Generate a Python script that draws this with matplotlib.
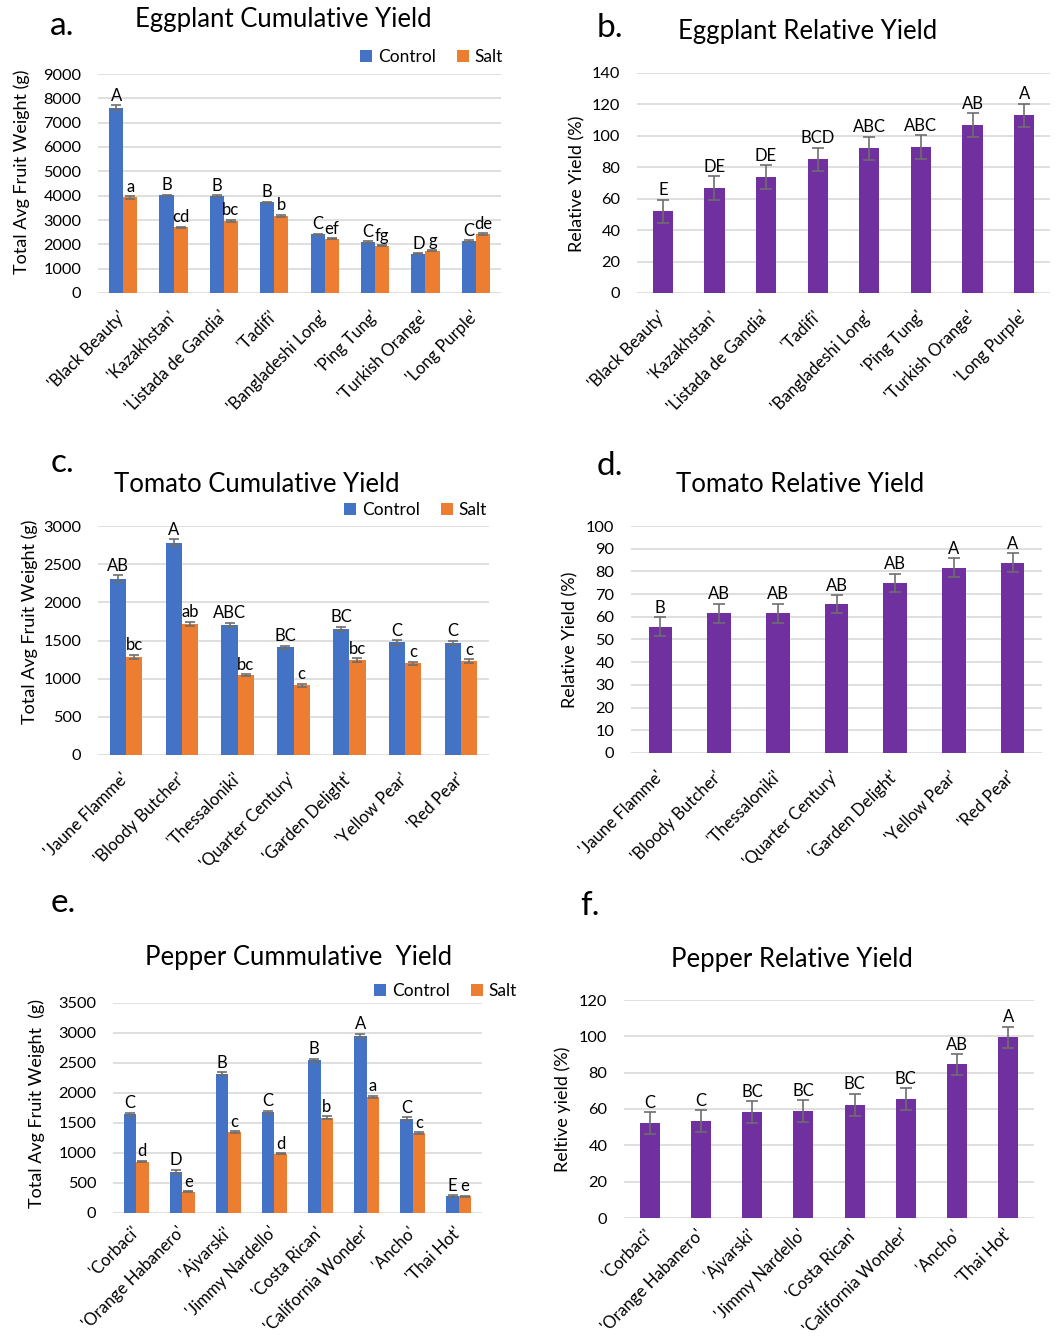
import matplotlib
matplotlib.use('Agg')
import matplotlib.pyplot as plt
import matplotlib.transforms as mtrans
import numpy as np

plt.rcParams['font.family'] = ['Lato', 'DejaVu Sans']

W, H = 1061, 1340

BLUE = '#4472C4'
ORANGE = '#ED7D31'
PURPLE = '#7030A0'
GRID = '#D9D9D9'
ERR = '#6E6E6E'

# Eggplant
egg_names = ["'Black Beauty'", "'Kazakhstan'", "'Listada de Gandia'", "'Tadifi'",
             "'Bangladeshi Long'", "'Ping Tung'", "'Turkish Orange'", "'Long Purple'"]
egg_ctrl = [7620, 4010, 3990, 3720, 2410, 2090, 1620, 2140]
egg_ctrl_err = [90, 30, 40, 40, 35, 30, 25, 30]
egg_salt = [3930, 2700, 2960, 3180, 2230, 1950, 1740, 2430]
egg_salt_err = [60, 30, 50, 40, 25, 25, 30, 35]
egg_ctrl_lett = ['A', 'B', 'B', 'B', 'C', 'C', 'D', 'C']
egg_salt_lett = ['a', 'cd', 'bc', 'b', 'ef', 'fg', 'g', 'de']
egg_rel = [52, 67, 74, 85, 92, 93, 107, 113]
egg_rel_err = [7.5, 7.5, 7.5, 7.5, 7.5, 7.5, 7.5, 7.5]
egg_rel_lett = ['E', 'DE', 'DE', 'BCD', 'ABC', 'ABC', 'AB', 'A']

# Tomato
tom_names = ["'Jaune Flamme'", "'Bloody Butcher'", "'Thessaloniki'", "'Quarter Century'",
             "'Garden Delight'", "'Yellow Pear'", "'Red Pear'"]
tom_ctrl = [2310, 2780, 1705, 1413, 1653, 1474, 1470]
tom_ctrl_err = [45, 45, 30, 20, 30, 30, 30]
tom_salt = [1287, 1718, 1047, 916, 1243, 1199, 1234]
tom_salt_err = [25, 30, 15, 20, 25, 25, 25]
tom_ctrl_lett = ['AB', 'A', 'ABC', 'BC', 'BC', 'C', 'C']
tom_salt_lett = ['bc', 'ab', 'bc', 'c', 'bc', 'c', 'c']
tom_rel = [55.7, 61.5, 61.5, 65.5, 75.0, 81.6, 83.8]
tom_rel_err = [4, 4.2, 4.2, 4, 4, 4.2, 4.2]
tom_rel_lett = ['B', 'AB', 'AB', 'AB', 'AB', 'A', 'A']

# Pepper
pep_names = ["'Corbaci'", "'Orange Habanero'", "'Ajvarski'", "'Jimmy Nardello'",
             "'Costa Rican'", "'California Wonder'", "'Ancho'", "'Thai Hot'"]
pep_ctrl = [1650, 685, 2320, 1678, 2542, 2952, 1573, 282]
pep_ctrl_err = [25, 35, 25, 25, 30, 35, 20, 10]
pep_salt = [858, 354, 1346, 986, 1589, 1933, 1329, 277]
pep_salt_err = [15, 12, 20, 10, 20, 20, 20, 10]
pep_ctrl_lett = ['C', 'D', 'B', 'C', 'B', 'A', 'C', 'E']
pep_salt_lett = ['d', 'e', 'c', 'd', 'b', 'a', 'c', 'e']
pep_rel = [52.1, 53.4, 58.3, 58.9, 62.4, 65.3, 84.5, 99.4]
pep_rel_err = [6, 6, 6, 6, 6, 6, 5.8, 6]
pep_rel_lett = ['C', 'C', 'BC', 'BC', 'BC', 'BC', 'AB', 'A']

fig = plt.figure(figsize=(W / 100, H / 100), dpi=100)


def px_axes(x0, y0, x1, y1):
    return fig.add_axes([x0 / W, 1 - y1 / H, (x1 - x0) / W, (y1 - y0) / H])


def style(ax, names, ymax, step, xpad):
    n = len(names)
    ax.set_xlim(-0.5, n - 0.5)
    ax.set_ylim(0, ymax)
    ax.set_yticks(np.arange(0, ymax + 1, step))
    ax.yaxis.grid(True, color=GRID, lw=1.2)
    ax.set_axisbelow(True)
    for s in ax.spines.values():
        s.set_visible(False)
    ax.tick_params(length=0, labelsize=11.8, pad=12)
    ax.set_xticks(range(n))
    ax.set_xticklabels(names, rotation=45, ha='right', va='top', fontsize=12)
    ax.tick_params(axis='x', pad=xpad)
    # shift rotated labels a little to the right, as in the original
    shift = mtrans.ScaledTranslation(6 / 100, 0, fig.dpi_scale_trans)
    for lab in ax.get_xticklabels():
        lab.set_transform(lab.get_transform() + shift)


def letters(ax, x, tops, labs):
    for xi, t, l in zip(x, tops, labs):
        ax.annotate(l, (xi, t), xytext=(0, 1), textcoords='offset points',
                    ha='center', va='bottom', fontsize=12)


def grouped(box, names, ctrl, ce, salt, se, cl, sl, ymax, step, bw, leg_xy, xpad=11):
    ax = px_axes(*box)
    x = np.arange(len(names))
    ek = dict(ecolor=ERR, elinewidth=1.2, capsize=3.5, capthick=1.2)
    b1 = ax.bar(x - bw / 2, ctrl, bw, color=BLUE, yerr=ce, error_kw=ek, label='Control')
    b2 = ax.bar(x + bw / 2, salt, bw, color=ORANGE, yerr=se, error_kw=ek, label='Salt')
    style(ax, names, ymax, step, xpad)
    letters(ax, x - bw / 2, np.array(ctrl) + np.array(ce), cl)
    letters(ax, x + bw / 2, np.array(salt) + np.array(se), sl)
    fig.legend(handles=[b1, b2], loc='center right', ncol=2, frameon=False,
               bbox_to_anchor=(leg_xy[0] / W, 1 - leg_xy[1] / H),
               handlelength=0.7, handleheight=0.7, handletextpad=0.35,
               columnspacing=1.2, fontsize=12.5, borderaxespad=0, borderpad=0)
    return ax


def relative(box, names, vals, err, labs, ymax, step, bw, xpad=11):
    ax = px_axes(*box)
    x = np.arange(len(names))
    ek = dict(ecolor=ERR, elinewidth=1.2, capsize=4, capthick=1.2)
    ax.bar(x, vals, bw, color=PURPLE, yerr=err, error_kw=ek)
    style(ax, names, ymax, step, xpad)
    letters(ax, x, np.array(vals) + np.array(err), labs)
    return ax


grouped((98, 74, 501, 293), egg_names, egg_ctrl, egg_ctrl_err, egg_salt, egg_salt_err,
        egg_ctrl_lett, egg_salt_lett, 9000, 1000, 0.28, (503, 57))
relative((637, 73, 1050, 293), egg_names, egg_rel, egg_rel_err, egg_rel_lett, 140, 20, 0.39)
grouped((98, 526, 489, 755), tom_names, tom_ctrl, tom_ctrl_err, tom_salt, tom_salt_err,
        tom_ctrl_lett, tom_salt_lett, 3000, 500, 0.29, (487, 510))
relative((631, 526, 1042, 753), tom_names, tom_rel, tom_rel_err, tom_rel_lett, 100, 10, 0.40)
grouped((113, 1003, 482, 1213), pep_names, pep_ctrl, pep_ctrl_err, pep_salt, pep_salt_err,
        pep_ctrl_lett, pep_salt_lett, 3500, 500, 0.27, (517, 991), xpad=8)
relative((624, 1000, 1034, 1218), pep_names, pep_rel, pep_rel_err, pep_rel_lett, 120, 20, 0.39,
         xpad=6)

# titles
for x, y, t in [(283, 20, 'Eggplant Cumulative Yield'), (808, 32, 'Eggplant Relative Yield'),
                (257, 485, 'Tomato Cumulative Yield'), (800, 485, 'Tomato Relative Yield'),
                (299, 957, 'Pepper Cummulative  Yield'), (792, 959, 'Pepper Relative Yield')]:
    fig.text(x / W, 1 - y / H, t, ha='center', va='center', fontsize=18.5)

# panel letters
for x, y, t in [(50, 26, 'a.'), (597, 28, 'b.'), (51, 463, 'c.'), (597, 466, 'd.'),
                (51, 903, 'e.'), (580, 906, 'f.')]:
    fig.text(x / W, 1 - y / H, t, ha='left', va='center', fontsize=24)

# y labels
for x, y, t in [(22, 172, 'Total Avg Fruit Weight (g)'), (577, 184, 'Relative Yield (%)'),
                (30, 622, 'Total Avg Fruit Weight (g)'), (570, 640, 'Relative Yield (%)'),
                (37, 1104, 'Total Avg Fruit Weight  (g)'), (563, 1109, 'Reltive yield (%)')]:
    fig.text(x / W, 1 - y / H, t, ha='center', va='center', rotation=90, fontsize=13)

fig.savefig('out.png', dpi=100, facecolor='white')
